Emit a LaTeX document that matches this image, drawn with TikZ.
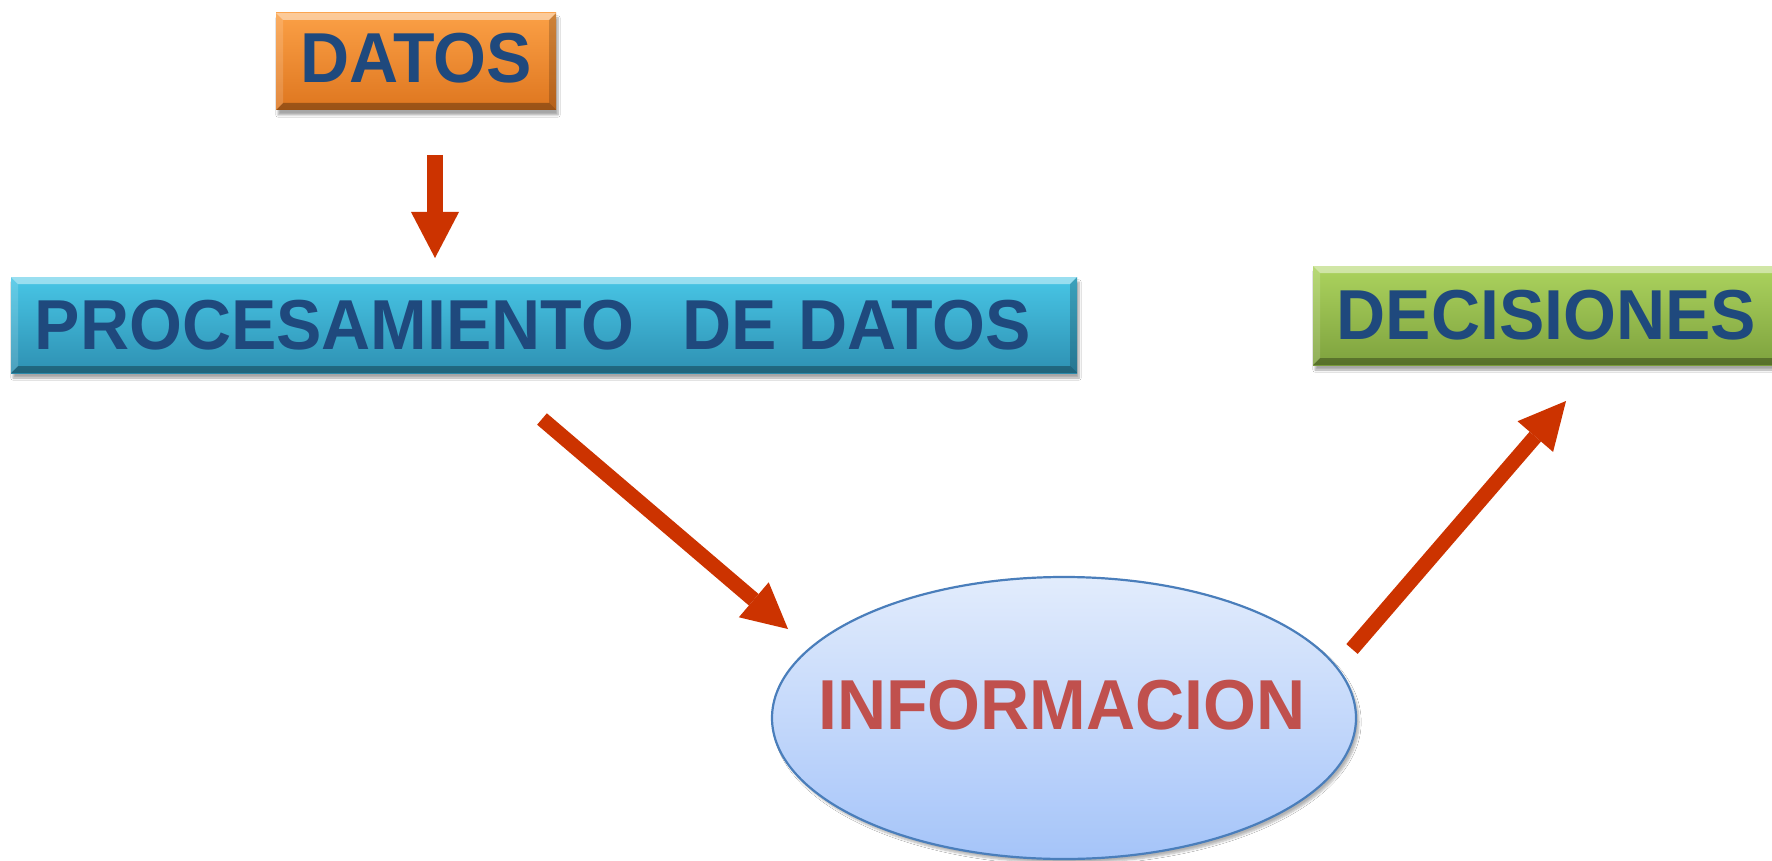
\documentclass[tikz,border=0pt]{standalone}
\usepackage{fontspec}
\setmainfont{Liberation Sans}
\usetikzlibrary{arrows.meta,shadows.blur,calc,shapes.geometric}
\definecolor{txtblue}{HTML}{1F497D}
\definecolor{infored}{HTML}{C0504D}
\definecolor{arrred}{HTML}{CC3300}
\definecolor{orTop}{HTML}{FBA046}
\definecolor{orBot}{HTML}{DE761F}
\definecolor{cyTop}{HTML}{48C6E6}
\definecolor{cyBot}{HTML}{2E90B2}
\definecolor{grTop}{HTML}{ACD35E}
\definecolor{grBot}{HTML}{7EA23E}
\definecolor{elTop}{HTML}{E2ECFC}
\definecolor{elBot}{HTML}{A5C4F9}
\definecolor{elBorder}{HTML}{4A7EBB}
\newcommand{\tallertext}[1]{\scalebox{1}[1.04]{#1}}
\tikzset{
  bevel/.style={path picture={
    \path (path picture bounding box.north west) coordinate (bA)
          (path picture bounding box.north east) coordinate (bB)
          (path picture bounding box.south east) coordinate (bC)
          (path picture bounding box.south west) coordinate (bD);
    \fill[white,opacity=0.45] (bA) -- (bB) -- ($(bB)+(-7,7)$) -- ($(bA)+(7,7)$) -- cycle;
    \fill[black,opacity=0.30] (bD) -- (bC) -- ($(bC)+(-7,-7)$) -- ($(bD)+(7,-7)$) -- cycle;
    \fill[black,opacity=0.18] (bB) -- (bC) -- ($(bC)+(-7,-7)$) -- ($(bB)+(-7,7)$) -- cycle;
    \fill[white,opacity=0.15] (bA) -- (bD) -- ($(bD)+(7,-7)$) -- ($(bA)+(7,7)$) -- cycle;
  }},
  box/.style={rectangle, inner sep=0pt, bevel,
    blur shadow={shadow xshift=2pt, shadow yshift=-5pt, shadow blur steps=6, shadow opacity=35}},
  lbl/.style={inner sep=0pt, anchor=base, text=txtblue, font=\fontsize{68}{80}\selectfont\bfseries},
  bigarrow/.style n args={3}{draw=arrred, line width=#1,
    -{Triangle[width=#2,length=#3,line width=0pt,fill=arrred]}}
}
\begin{document}
\begin{tikzpicture}[x=1pt,y=-1pt]
\useasboundingbox (0,0) rectangle (1772,861);
\fill[white] (0,0) rectangle (1772,861);

% boxes
\node[box, top color=orTop, bottom color=orBot, minimum width=280pt, minimum height=97pt] (datos) at (416,61.5) {};
\node[lbl] (datosT) at (416,83) {\tallertext{DATOS}};

\node[box, top color=cyTop, bottom color=cyBot, minimum width=1066pt, minimum height=96pt] (proc) at (544,325) {};
\node[lbl] (procT) at (532.5,349) {\tallertext{PROCESAMIENTO\hspace{48pt}DE\hspace{22pt}DATOS}};

\node[box, top color=grTop, bottom color=grBot, minimum width=490pt, minimum height=99pt] (dec) at (1558,315.5) {};
\node[lbl] (decT) at (1546.5,339) {\tallertext{DECISIONES}};

% ellipse
\node[ellipse, draw=elBorder, line width=2.2pt, top color=elTop, bottom color=elBot,
      minimum width=584pt, minimum height=282pt, inner sep=0pt,
      blur shadow={shadow xshift=3pt, shadow yshift=-4pt, shadow blur steps=6, shadow opacity=30}] (info) at (1064,718) {};
\node[inner sep=0pt, anchor=base, text=infored, font=\fontsize{68}{80}\selectfont\bfseries] (infoT) at (1062,729) {\tallertext{INFORMACION}};

% arrows
\coordinate (a1s) at (435,155);
\coordinate (a1e) at (435,258);
\coordinate (a2s) at (542,419);
\coordinate (a2e) at (788,629);
\coordinate (a3s) at (1352,649);
\coordinate (a3e) at (1566,401);
\draw[bigarrow={16pt}{48pt}{46pt}] (a1s) -- (a1e);
\draw[bigarrow={15pt}{46pt}{45pt}] (a2s) -- (a2e);
\draw[bigarrow={15pt}{47pt}{47pt}] (a3s) -- (a3e);
\end{tikzpicture}
\end{document}
